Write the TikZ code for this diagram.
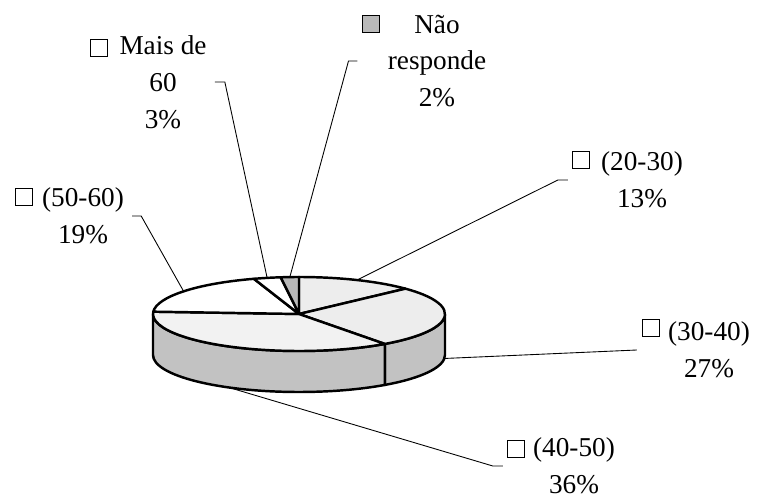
\documentclass[tikz,border=0pt]{standalone}
\usepackage{fontspec}
\setmainfont{Liberation Serif}
\usetikzlibrary{positioning}
\colorlet{topC}{gray!14}
\colorlet{sideC}{gray!48}
\colorlet{noansC}{gray!55}

\begin{document}
\begin{tikzpicture}[x=0.02cm,y=-0.02cm,
  slice/.style={draw=black,line width=1.4pt,line join=round},
  leader/.style={draw=black,line width=0.5pt},
  keybox/.style={draw=black,line width=0.9pt,minimum size=0.34cm,inner sep=0pt,fill=white},
  lbl/.style={align=center,inner sep=0pt,font=\fontsize{15.5}{21}\selectfont}]
\useasboundingbox (0,0) rectangle (758,500);
\coordinate (c) at (299,314);

% sides of the pie
\filldraw[slice,fill=sideC] (c) ++(0:146 and 37) arc[start angle=0,end angle=54,x radius=146,y radius=37]
  -- ++(0,41) arc[start angle=54,end angle=0,x radius=146,y radius=37] -- cycle;
\filldraw[slice,fill=sideC] (c) ++(54:146 and 37) arc[start angle=54,end angle=180,x radius=146,y radius=37]
  -- ++(0,41) arc[start angle=180,end angle=54,x radius=146,y radius=37] -- cycle;

% top of the pie
\filldraw[slice,fill=topC] (c) -- ++(-90:146 and 37) arc[start angle=-90,end angle=-43.2,x radius=146,y radius=37] -- cycle;
\filldraw[slice,fill=topC] (c) -- ++(-43.2:146 and 37) arc[start angle=-43.2,end angle=54,x radius=146,y radius=37] -- cycle;
\filldraw[slice,fill=gray!10] (c) -- ++(54:146 and 37) arc[start angle=54,end angle=183.6,x radius=146,y radius=37] -- cycle;
\filldraw[slice,fill=white] (c) -- ++(183.6:146 and 37) arc[start angle=183.6,end angle=252,x radius=146,y radius=37] -- cycle;
\filldraw[slice,fill=white] (c) -- ++(252:146 and 37) arc[start angle=252,end angle=262.8,x radius=146,y radius=37] -- cycle;
\filldraw[slice,fill=noansC] (c) -- ++(262.8:146 and 37) arc[start angle=262.8,end angle=270,x radius=146,y radius=37] -- cycle;

% where the leaders meet the pie
\path (c) ++(-66.6:146 and 37) coordinate (p2030);
\path (c) ++(5.4:146 and 37) ++(0,41) coordinate (p3040);
\path (c) ++(118.8:146 and 37) ++(0,41) coordinate (p4050);
\path (c) ++(217.8:146 and 37) coordinate (p5060);
\path (c) ++(257.4:146 and 37) coordinate (pmais);
\path (c) ++(266.4:146 and 37) coordinate (pnoans);

% labels
\node[lbl] (l2030) at (642,180) {(20-30)\\13\%};
\node[keybox] (k2030) at (581,160) {};
\node[lbl] (l3040) at (709,350) {(30-40)\\27\%};
\node[keybox] (k3040) at (651,328) {};
\node[lbl] (l4050) at (574,466) {(40-50)\\36\%};
\node[keybox] (k4050) at (516,449) {};
\node[lbl] (l5060) at (83,216) {(50-60)\\19\%};
\node[keybox] (k5060) at (24,197) {};
\node[lbl] (lmais) at (163,82) {Mais de\\60\\3\%};
\node[keybox] (kmais) at (99,48) {};
\node[lbl] (lnoans) at (437,61) {Não\\responde\\2\%};
\node[keybox,fill=noansC] (knoans) at (371,24) {};

% leaders
\draw[leader] (l2030.west) ++(-33,0) -- ++(-10,0) -- (p2030);
\draw[leader] (l3040.west) ++(-31,0) -- (p3040);
\draw[leader] (l4050.west) ++(-30,0) -- ++(-10,0) -- (p4050);
\draw[leader] (l5060.east) ++(8,0) -- ++(9,0) -- (p5060);
\draw[leader] (lmais.east) ++(8,0) -- ++(10,0) -- (pmais);
\draw[leader] (lnoans.west) ++(-30,0) -- ++(-9,0) -- (pnoans);

\end{tikzpicture}
\end{document}
